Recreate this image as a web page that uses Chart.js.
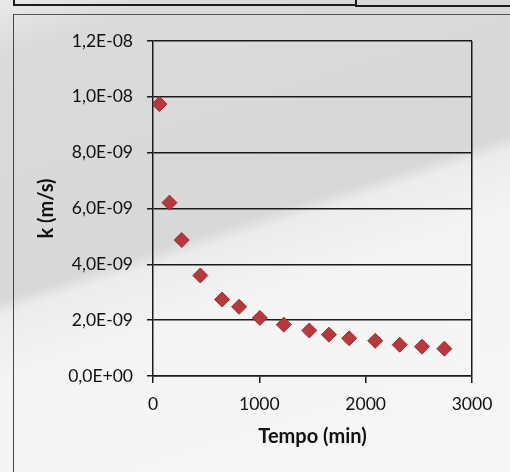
<!DOCTYPE html>
<html>
<head>
<meta charset="utf-8">
<script src="https://cdn.jsdelivr.net/npm/chart.js@4"></script>
<style>
  html, body { margin: 0; padding: 0; }
  body {
    width: 510px; height: 472px; overflow: hidden; position: relative;
    background: linear-gradient(162deg, #e9e9e9 0%, #dadada 9%, #d8d8d8 47%, #ececec 49.5%, #f4f4f4 60%, #f6f6f6 100%);
  }
  .line { position: absolute; background: #1c1c1c; }
  #wrap { position: absolute; left: 0; top: 0; width: 510px; height: 472px; }
</style>
</head>
<body>
<!-- scanned page frame pieces -->
<div class="line" style="left:13px; top:0; width:2px; height:6px;"></div>
<div class="line" style="left:13px; top:4px; width:343px; height:2px;"></div>
<div class="line" style="left:355px; top:0; width:2px; height:7px;"></div>
<div class="line" style="left:356px; top:5px; width:154px; height:2px;"></div>
<div class="line" style="left:13px; top:14px; width:497px; height:1px; background:#555;"></div>
<div class="line" style="left:13px; top:14px; width:1px; height:458px; background:#444;"></div>

<div id="wrap"><canvas id="chart" width="510" height="472"></canvas></div>

<script>
// ====== DATA ======
const timeMin = [60, 155, 270, 445, 650, 810, 1005, 1230, 1470, 1655, 1845, 2090, 2320, 2530, 2740];
const kValues = [9.74e-9, 6.21e-9, 4.87e-9, 3.6e-9, 2.74e-9, 2.48e-9, 2.08e-9, 1.84e-9, 1.63e-9, 1.48e-9, 1.35e-9, 1.26e-9, 1.12e-9, 1.05e-9, 0.98e-9];

const xTickValues = [0, 1000, 2000, 3000];
const xTickLabels = ['0', '1000', '2000', '3000'];
const yTickValues = [0, 2e-9, 4e-9, 6e-9, 8e-9, 1e-8, 1.2e-8];
const yTickLabels = ['0,0E+00', '2,0E-09', '4,0E-09', '6,0E-09', '8,0E-09', '1,0E-08', '1,2E-08'];

const xTitle = 'Tempo (min)';
const yTitle = 'k (m/s)';

// ====== CHART ======
const INK = '#1a1a1a';
const FONT = 'Lato';

const points = timeMin.map((t, i) => ({ x: t, y: kValues[i] }));

const chart = new Chart(document.getElementById('chart'), {
    type: 'scatter',
    data: {
        datasets: [{
            data: points,
            pointStyle: 'rectRot',
            pointRadius: 7.5,
            pointHoverRadius: 7.5,
            backgroundColor: '#b8393b',
            borderColor: '#962d2f',
            borderWidth: 1
        }]
    },
    options: {
        responsive: false,
        animation: false,
        events: [],
        layout: { padding: { left: 20, top: 41, right: 38, bottom: 16 } },
        plugins: { legend: { display: false }, tooltip: { enabled: false } },
        scales: {
            x: {
                type: 'linear',
                min: 0,
                max: 3000,
                afterBuildTicks: scale => { scale.ticks = xTickValues.map(v => ({ value: v })); },
                afterFit: scale => { scale.height = 80; },
                grid: {
                    // only the 3000 line is drawn, it closes the plot on the right
                    color: c => c.tick && c.tick.value === 3000 ? INK : 'rgba(0,0,0,0)',
                    lineWidth: 1.5,
                    tickColor: INK,
                    tickLength: 7
                },
                border: { color: INK, width: 1.5 },
                ticks: {
                    color: '#111',
                    padding: 11,
                    maxRotation: 0,
                    font: { family: FONT, size: 17.5 },
                    callback: (value, index) => xTickLabels[index]
                },
                title: {
                    display: true,
                    text: xTitle,
                    color: '#111',
                    font: { family: FONT, size: 20, weight: 'bold' },
                    padding: { top: 0, bottom: 7 }
                }
            },
            y: {
                type: 'linear',
                min: 0,
                max: 1.2e-8,
                afterBuildTicks: scale => { scale.ticks = yTickValues.map(v => ({ value: v })); },
                afterFit: scale => { scale.width = 133; },
                grid: {
                    color: INK,
                    lineWidth: 1.5,
                    tickColor: INK,
                    tickLength: 6
                },
                border: { color: INK, width: 1.5 },
                ticks: {
                    color: '#111',
                    padding: 14,
                    font: { family: FONT, size: 17.5 },
                    callback: (value, index) => yTickLabels[index]
                },
                title: {
                    display: true,
                    text: yTitle,
                    color: '#111',
                    font: { family: FONT, size: 20, weight: 'bold' },
                    padding: { top: 15, bottom: 0 }
                }
            }
        }
    }
});
</script>
</body>
</html>
